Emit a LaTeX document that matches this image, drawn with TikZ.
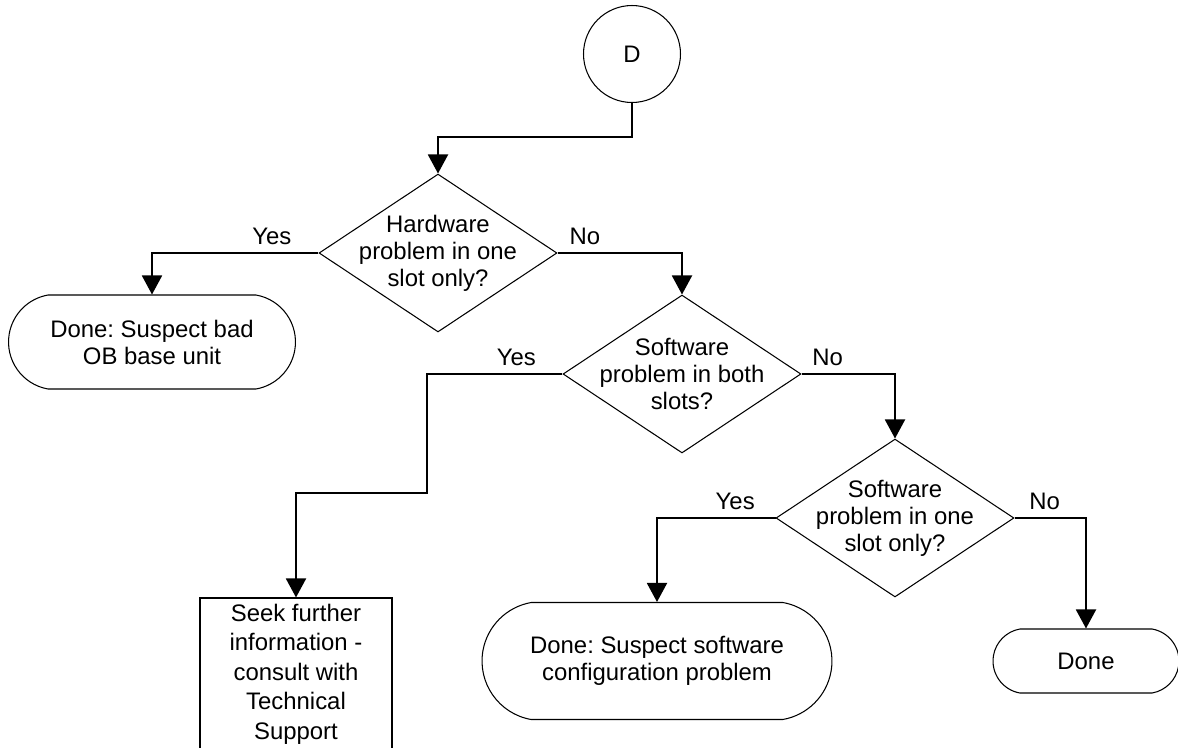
\documentclass[tikz,border=0pt]{standalone}
\usepackage{fontspec}
\setmainfont{Liberation Sans}
\usepackage{tikz}
\usetikzlibrary{positioning, calc, shapes.geometric, shapes.misc, arrows.meta}
\frenchspacing

\tikzset{
  every node/.style={font=\fontsize{13.6}{15.4}\selectfont},
  flow/.style={line width=1.1pt, -{Triangle[width=0.4cm,length=0.38cm]}},
  connector/.style={draw, shape=circle, line width=0.6pt, minimum size=1.94cm, inner sep=0pt},
  decision/.style={draw, shape=diamond, line width=0.6pt, minimum width=4.76cm, minimum height=3.16cm, inner sep=0pt},
  qtext/.style={align=center, inner sep=0pt},
  terminal/.style={draw, shape=rounded rectangle, rounded rectangle arc length=160, line width=0.6pt, align=center, inner sep=0pt},
  process/.style={draw, shape=rectangle, line width=0.6pt, align=center, font=\fontsize{13.6}{16.8}\selectfont},
  answer/.style={above, inner sep=4pt}
}

\begin{document}
\begin{tikzpicture}[x=0.02cm, y=-0.02cm]
  \useasboundingbox (0,0) rectangle (1178,748);
  \clip (0,0) rectangle (1178,748);

  % Off-page connector
  \node[connector] (D) at (632,54) {D};

  % Decisions
  \node[decision, label={[qtext]center:Hardware\\problem in one\\slot only?}] (q1) at (438,253) {};
  \node[decision, label={[qtext]center:Software\\problem in both\\slots?}] (q2) at (682,374) {};
  \node[decision, label={[qtext]center:Software\\problem in one\\slot only?}] (q3) at (895,518) {};

  % Outcomes
  \node[terminal, minimum width=5.74cm, minimum height=1.88cm] (badunit) at (152,342) {Done: Suspect bad\\OB base unit};
  \node[process, minimum width=3.84cm, minimum height=3.04cm] (support) at (296,674) {Seek further\\information -\\consult with\\Technical\\Support};
  \node[terminal, minimum width=7.0cm, minimum height=2.34cm] (swconfig) at (657,661) {Done: Suspect software\\configuration problem};
  \node[terminal, minimum width=3.72cm, minimum height=1.28cm] (done) at (1086,661) {Done};

  % Bends
  \coordinate (dbend) at (632,137);
  \coordinate (ybend) at (427,493);

  % Connectors
  \draw[flow] (D.south) |- (dbend -| q1.north) -- (q1.north);
  \draw[flow] (q1.west) -| node[answer, pos=0.14] {Yes} (badunit.north);
  \draw[flow] (q1.east) -| node[answer, pos=0.11] {No} (q2.north);
  \draw[flow] (q2.west) -| node[answer, pos=0.17] {Yes} (ybend) -| (support.north);
  \draw[flow] (q2.east) -| node[answer, pos=0.14] {No} (q3.north);
  \draw[flow] (q3.west) -| node[answer, pos=0.17] {Yes} (swconfig.north);
  \draw[flow] (q3.east) -| node[answer, pos=0.21] {No} (done.north);
\end{tikzpicture}
\end{document}
